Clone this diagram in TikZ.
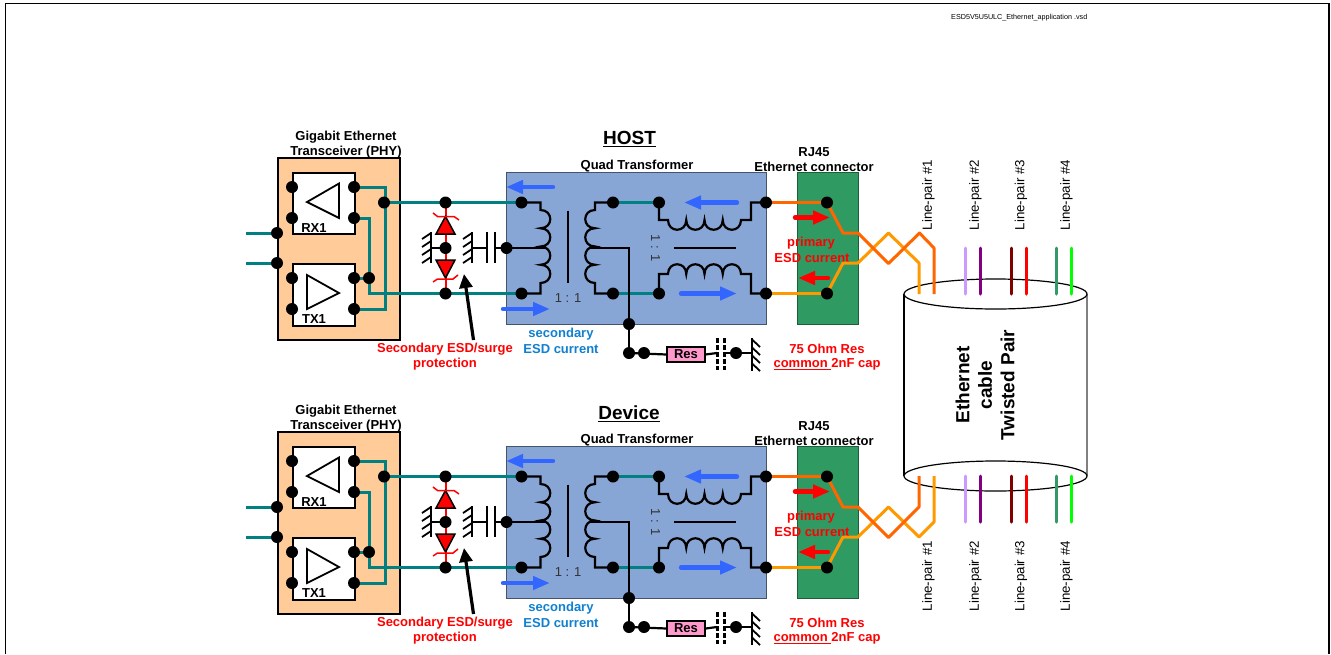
\documentclass[tikz,border=0pt]{standalone}
\usepackage{fontspec}
\setmainfont{Liberation Sans}
\usetikzlibrary{arrows.meta}
\pgfdeclarelayer{fg}
\pgfsetlayers{main,fg}
\definecolor{tealw}{HTML}{008080}
\definecolor{peach}{HTML}{FFCC99}
\definecolor{xfmr}{HTML}{88A6D5}
\definecolor{xfmrb}{HTML}{44546A}
\definecolor{rjg}{HTML}{2F9A62}
\definecolor{rjb}{HTML}{1E5C3C}
\definecolor{orgA}{HTML}{FF6600}
\definecolor{orgB}{HTML}{FF9900}
\definecolor{bluea}{HTML}{3366FF}
\definecolor{bluet}{HTML}{1080D0}
\definecolor{pinkr}{HTML}{FF99CC}
\tikzset{
  x=1pt,y=-1pt,
  dotn/.style={circle,fill=black,draw=none,inner sep=0pt,minimum size=12pt},
  boxn/.style={draw=black,line width=2pt,inner sep=0pt,anchor=north west},
  txtb/.style={font=\fontsize{13}{15}\selectfont\bfseries,text=black,inner sep=0pt,align=center,yshift=-1.2pt},
  redt/.style={txtb,text=red},
  bluetx/.style={txtb,text=bluet},
  one/.style={font=\fontsize{13}{15}\selectfont,text=black!80,inner sep=0pt},
  lp/.style={font=\fontsize{13.3}{15}\selectfont,text=black,inner sep=0pt,rotate=90,anchor=west},
  teal/.style={draw=tealw,line width=3pt},
  wire/.style={draw=black,line width=2.2pt,line join=miter},
  hatch/.style={draw=black,line width=1.8pt},
  bluearr/.style={draw=bluea,line width=4.4pt,line cap=round,-{Triangle[length=17pt,width=13pt]}},
  redarr/.style={draw=red,line width=4.4pt,line cap=round,-{Triangle[length=17pt,width=13pt]}},
  orgAw/.style={draw=orgA,line width=3pt,line join=round},
  orgBw/.style={draw=orgB,line width=3pt,line join=round},
  pair/.style={line width=3pt,line cap=round},
}
\newcommand{\gndleft}[2]{%
  \draw[hatch] (#1,232) -- (#1,263);
  \foreach \yy in {233,241,249,257} \draw[hatch] (#1,\yy) -- (#1-9,\yy+6);
}
\newcommand{\block}[2]{%
\begin{scope}[shift={(0,#1)},name prefix=#2-]
  % boxes
  \node[boxn,fill=peach,minimum width=122pt,minimum height=182pt] (phy) at (277,157) {};
  \node[boxn,fill=white,minimum width=62pt,minimum height=61pt] (rx) at (292,172) {};
  \node[boxn,fill=white,minimum width=62pt,minimum height=62pt] (tx) at (292,263) {};
  \node[draw=xfmrb,line width=1pt,fill=xfmr,inner sep=0pt,anchor=north west,minimum width=260pt,minimum height=152pt] (xf) at (506,172) {};
  \node[draw=rjb,line width=1pt,fill=rjg,inner sep=0pt,anchor=north west,minimum width=61pt,minimum height=152pt] (rj) at (797,172) {};
  % texts
  \node[txtb] (t1) at (346,135.5) {Gigabit Ethernet};
  \node[txtb] (t2) at (346,150.5) {Transceiver (PHY)};
  \node[txtb] (t3) at (637,165) {Quad Transformer};
  \node[txtb] (t4) at (814,151) {RJ45};
  \node[txtb] (t5) at (814,166) {Ethernet connector};
  \node[txtb] (rxl) at (314,227) {RX1};
  \node[txtb] (txl) at (314,318) {TX1};
  \node[redt] (s1) at (445,348) {Secondary ESD/surge};
  \node[redt] (s2) at (445,363) {protection};
  \node[bluetx] (c1) at (561,333) {secondary};
  \node[bluetx] (c2) at (561,348) {ESD current};
  \node[redt] (p1) at (811,242) {primary};
  \node[redt] (p2) at (812,257) {ESD current};
  \node[redt] (o1) at (827,348) {75 Ohm Res};
  \node[redt] (o2) at (827,363) {\underline{common\ }2nF cap};
  \node[one] (r1) at (568,298) {1 : 1};
  \node[one,rotate=-90] (r2) at (655.5,248) {1 : 1};
  % dots
  \begin{pgfonlayer}{fg}
    \foreach \n/\x/\y in {pa/277/233,pb/277/263,ra/292/187,rb/292/218,rc/354/187,rd/354/218,
      ta/292/278,tb/292/309,tc/354/278,td/354/309,te/369/278,jn/384/202.5,
      ea/445.5/202.5,eb/445.5/248,ec/445.5/293.5,xa/521.5/202.5,xb/521.5/293.5,xc/506.5/248,
      ya/613/202.5,yb/613/293.5,za/659/202.5,zb/659/293.5,wa/766/202.5,wb/766/293.5,
      gc/629/324,gd/629/353,ge/644/353,gf/736/353,ja/827/202.5,jb/827/293.5}
      \node[dotn] (\n) at (\x,\y) {};
  \end{pgfonlayer}
  \node[draw=black,line width=1.2pt,fill=pinkr,inner sep=0pt,minimum width=38pt,minimum height=15pt,font=\fontsize{13}{15}\selectfont\bfseries] (res) at (686,354.5) {Res};
  % amplifier triangles
  \draw[draw=black,line width=1.8pt,line join=miter] (307,202) -- (339,183.5) -- (339,218) -- cycle;
  \draw[draw=black,line width=1.8pt,line join=miter] (339,293) -- (307,275) -- (307,309) -- cycle;
  % teal wiring
  \draw[teal] (pa.center) -- (246,233);
  \draw[teal] (pb.center) -- (246,263);
  \draw[teal] (rc.center) -- (385,187) -- (385,309) -- (td.center);
  \draw[teal] (rd.center) -- (369,218) -- (369,293.5) -- (ec.center);
  \draw[teal] (tc.center) -- (te.center);
  \draw[teal] (jn.center) -- (ea.center);
  \draw[teal] (ea.center) -- (xa.center);
  \draw[teal] (ec.center) -- (xb.center);
  \draw[teal] (ya.center) -- (za.center);
  \draw[teal] (yb.center) -- (zb.center);
  % ESD diodes
  \draw[draw=red,line width=2pt] (ea.center) -- (ec.center);
  \draw[draw=black,fill=red,line width=1.5pt,line join=miter] (445.5,216.5) -- (455,234) -- (436,234) -- cycle;
  \draw[draw=black,fill=red,line width=1.5pt,line join=miter] (445.5,278) -- (455,260) -- (436,260) -- cycle;
  \draw[draw=red,line width=1.5pt] (433,213) -- (437.5,216.5) -- (454,216.5) -- (459,220);
  \draw[draw=red,line width=1.5pt] (433,282) -- (437.5,279) -- (453,279) -- (458,275);
  % grounds and capacitor
  \gndleft{431}{248}
  \gndleft{472}{248}
  \draw[wire] (431,248) -- (eb.center);
  \draw[wire] (472,248) -- (487,248);
  \draw[wire,line width=2.4pt] (487,232) -- (487,263);
  \draw[wire,line width=2.4pt] (495,232) -- (495,263);
  \draw[wire] (495,248) -- (xc.center);
  % primary winding
  \draw[wire] (xa.center) -- (540.5,202.5) -- (540.5,210)
     \foreach \i in {1,...,4} { .. controls +(13,0) and +(13,0) .. ++(0,18.25) } -- (540.5,293.5) -- (xb.center);
  \draw[wire] (xc.center) -- (546,248);
  \draw[wire] (568,210.5) -- (568,283);
  % secondary winding
  \draw[wire] (ya.center) -- (595,202.5) -- (595,210)
     \foreach \i in {1,...,4} { .. controls +(-13,0) and +(-13,0) .. ++(0,18.25) } -- (595,293.5) -- (yb.center);
  \draw[wire] (589,248) -- (629,248) -- (gc.center);
  \draw[wire] (gc.center) -- (gd.center);
  % line side windings
  \draw[wire] (za.center) -- (659,220) -- (668,220)
     \foreach \i in {1,...,4} { .. controls +(0,13) and +(0,13) .. ++(18.25,0) } -- (751,220) -- (751,202.5) -- (wa.center);
  \draw[wire] (zb.center) -- (659,274) -- (668,274)
     \foreach \i in {1,...,4} { .. controls +(0,-13) and +(0,-13) .. ++(18.25,0) } -- (751,274) -- (751,293.5) -- (wb.center);
  \draw[wire] (674,248) -- (736,248);
  % termination
  \draw[wire] (gd.center) -- (res.west);
  \draw[wire] (res.east) -- (717,353);
  \draw[draw=black,line width=3pt,dash pattern=on 5pt off 2pt] (717,338) -- (717,370);
  \draw[draw=black,line width=3pt,dash pattern=on 5pt off 2pt] (724.5,338) -- (724.5,370);
  \draw[wire] (724.5,353) -- (751.5,353);
  \draw[hatch,line width=2pt] (751.5,338) -- (751.5,371);
  \foreach \yy in {339,347,355,363} \draw[hatch] (751.5,\yy) -- (760,\yy+8);
  % orange to RJ45
  \draw[orgAw] (wa.center) -- (ja.center);
  \draw[orgBw] (wb.center) -- (jb.center);
  % current arrows
  \draw[bluearr] (553,187) -- (506,187);
  \draw[bluearr] (503,309) -- (550,309);
  \draw[bluearr] (737,202.5) -- (684,202.5);
  \draw[bluearr] (681,293.5) -- (737,293.5);
  \draw[redarr] (795,217.5) -- (830,217.5);
  \draw[redarr] (828,278) -- (798,278);
  % pointer
  \draw[draw=black,line width=3.2pt,-{Triangle[length=14pt,width=13pt]}] (473.5,340) -- (464,274);
\end{scope}}
\begin{document}
\begin{tikzpicture}
\useasboundingbox (0,0) rectangle (1331,654);
\fill[white] (0,0) rectangle (1331,654);
\draw[draw=black,line width=1.6pt] (5.5,654) -- (5.5,3.5) -- (1329,3.5) -- (1329,654);
\node[font=\fontsize{7.2}{9}\selectfont,inner sep=0pt,anchor=west] (hdr) at (951,17.5) {ESD5V5U5ULC\_Ethernet\_application .vsd};
\node[font=\fontsize{19}{22}\selectfont\bfseries,inner sep=0pt] (host) at (629.5,139) {\underline{HOST}};
\node[font=\fontsize{19}{22}\selectfont\bfseries,inner sep=0pt] (dev) at (629,414) {\underline{Device}};
\block{0}{h}
\block{274}{d}
% cylinder
\fill[white] (904,294) rectangle (1087,476);
\draw[draw=black,line width=1.2pt] (904,294) -- (904,476);
\draw[draw=black!50,line width=2pt] (1087,294) -- (1087,476);
\draw[draw=black,line width=1.2pt,fill=white] (995.5,294) ellipse [x radius=91.5,y radius=15];
\draw[draw=black,line width=1.2pt,fill=white] (995.5,476) ellipse [x radius=91.5,y radius=15];
\node[font=\fontsize{19}{22.5}\selectfont\bfseries,rotate=90,inner sep=0pt,align=center] (cab) at (985,385) {Ethernet\\cable\\Twisted Pair};
% top cable
\coordinate (ta1) at (934,294);
\coordinate (tb1) at (919,294);
\draw[orgBw] (h-jb.center) -- (843,263) -- (858,263) -- (888.5,233) -- (919,263) -- (tb1);
\draw[orgAw] (h-ja.center) -- (843,233) -- (858,233) -- (888.5,263.5) -- (919.5,233) -- (934,248) -- (ta1);
% bottom cable
\coordinate (ba1) at (919,476);
\coordinate (bb1) at (934,476);
\draw[orgBw] (d-jb.center) -- (843,537) -- (858,537) -- (888.5,507) -- (919,537) -- (934,522) -- (bb1);
\draw[orgAw] (d-ja.center) -- (843,507) -- (858,507) -- (888.5,537.5) -- (919,507) -- (ba1);
% line pairs
\foreach \xx/\cc in {965/CC99FF,980/800080,1011/800000,1026/FF0000,1056/339966,1071/00FF00}{
  \definecolor{tmpc}{HTML}{\cc}
  \draw[pair,draw=tmpc] (\xx,248) -- (\xx,294);
  \draw[pair,draw=tmpc] (\xx,476) -- (\xx,522);
}
\foreach \n/\xx/\lb in {a/928.5/1,b/975.5/2,c/1021/3,d/1066.5/4}{
  \node[lp] (lpt\n) at (\xx,230.5) {Line-pair \#\lb};
  \node[lp] (lpb\n) at (\xx,611.5) {Line-pair \#\lb};
}
\end{tikzpicture}
\end{document}
